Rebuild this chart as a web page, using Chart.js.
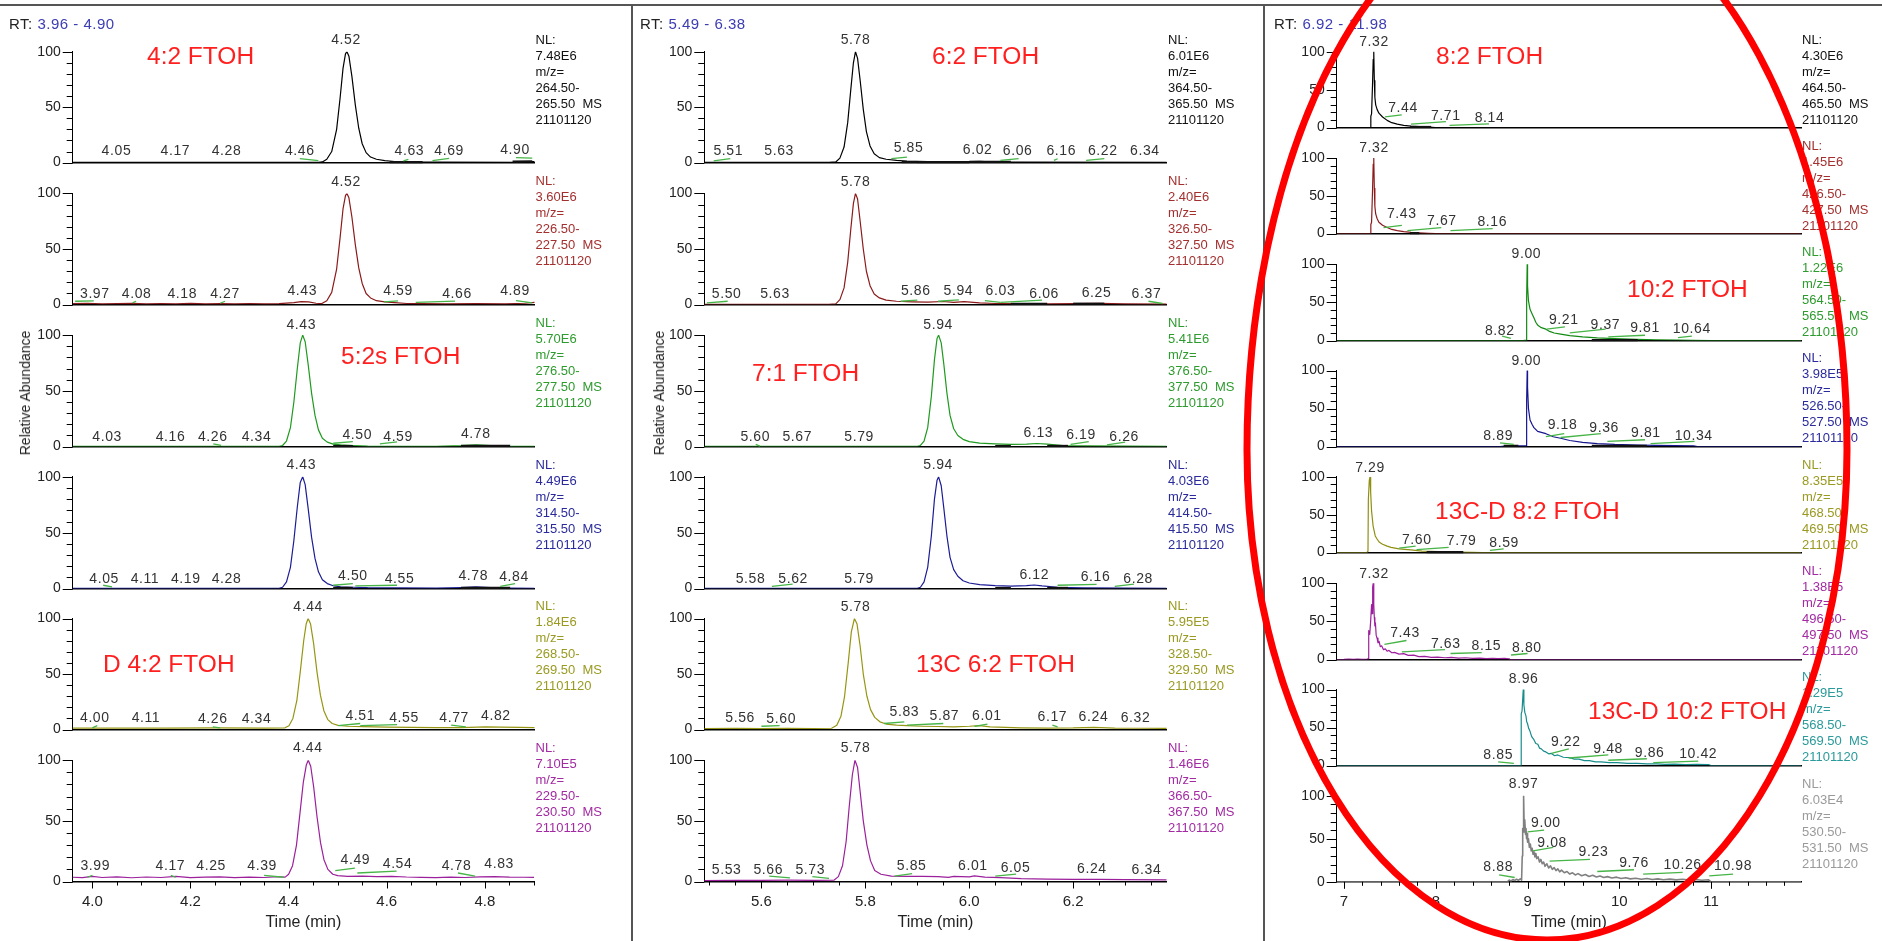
<!DOCTYPE html>
<html>
<head>
<meta charset="utf-8">
<script src="https://cdn.jsdelivr.net/npm/chart.js@4.4.1/dist/chart.umd.min.js"></script>
<style>
  body { margin: 0; background: #fff; width: 1882px; height: 941px; overflow: hidden; position: relative;
         font-family: "Liberation Sans", Arial, sans-serif; }
  canvas { position: absolute; }
  .txt { position: absolute; white-space: pre; }
  .nl { font-size: 13px; line-height: 16px; }
  .cmp { font-size: 24.5px; line-height: 25px; color: #ff1f1f; }
  .rt { font-size: 15px; line-height: 15px; color: #222; letter-spacing: 0.5px; }
  .rt span { color: #3c3cb4; }
  .ylab { font-size: 14px; line-height: 14px; color: #222; transform: translate(-50%, -50%) rotate(-90deg); }
  .bar { position: absolute; background: #555; }
</style>
</head>
<body>
<script>
// retention-time windows of the three panels
const rtRange1 = [3.96, 4.90];
const rtRange2 = [5.49, 6.38];
const rtRange3 = [6.92, 11.98];

// y axis (relative abundance)
const yTicks = [0, 10, 20, 30, 40, 50, 60, 70, 80, 90, 100];
const yTickLabels = ['0', '', '', '', '', '50', '', '', '', '', '100'];

// x axis ticks of each panel
const xTicks1 = [4.00, 4.05, 4.10, 4.15, 4.20, 4.25, 4.30, 4.35, 4.40, 4.45, 4.50, 4.55, 4.60, 4.65, 4.70, 4.75, 4.80, 4.85, 4.90];
const xTickLabels1 = ['4.0', '', '', '', '4.2', '', '', '', '4.4', '', '', '', '4.6', '', '', '', '4.8', '', ''];
const xTicks2 = [5.50, 5.55, 5.60, 5.65, 5.70, 5.75, 5.80, 5.85, 5.90, 5.95, 6.00, 6.05, 6.10, 6.15, 6.20, 6.25, 6.30, 6.35];
const xTickLabels2 = ['', '', '5.6', '', '', '', '5.8', '', '', '', '6.0', '', '', '', '6.2', '', '', ''];
const xTicks3 = [7.0, 7.2, 7.4, 7.6, 7.8, 8.0, 8.2, 8.4, 8.6, 8.8, 9.0, 9.2, 9.4, 9.6, 9.8, 10.0, 10.2, 10.4, 10.6, 10.8, 11.0, 11.2, 11.4, 11.6, 11.8];
const xTickLabels3 = ['7', '', '', '', '', '8', '', '', '', '', '9', '', '', '', '', '10', '', '', '', '', '11', '', '', '', ''];

// ---- panel 1 traces [time, relative abundance] ----
const mz264 = [[3.96,0.3],[4.10,0.3],[4.30,0.3],[4.46,0.3],[4.468,0.6],[4.477,3],[4.487,10],[4.497,30],[4.504,58],[4.51,85],[4.515,98],[4.518,100],[4.522,96],[4.528,78],[4.535,52],[4.542,31],[4.549,17],[4.557,9],[4.566,5],[4.578,3],[4.595,1.8],[4.615,1],[4.64,0.6],[4.70,0.4],[4.86,0.3],[4.88,0.8],[4.90,1]];
const mz226 = [[3.96,0.8],[3.99,1.2],[4.02,0.6],[4.05,0.9],[4.08,1.1],[4.11,0.6],[4.14,1],[4.17,0.7],[4.2,1.1],[4.23,0.6],[4.26,0.9],[4.29,0.6],[4.32,1],[4.35,0.7],[4.38,0.9],[4.41,1.8],[4.425,2.6],[4.44,2.4],[4.455,1.2],[4.467,0.9],[4.477,3.5],[4.487,11],[4.497,32],[4.504,60],[4.51,86],[4.515,98],[4.518,100],[4.522,96],[4.528,79],[4.535,54],[4.542,33],[4.549,19],[4.557,10],[4.566,6],[4.578,3.5],[4.595,2.5],[4.615,1.8],[4.64,1],[4.67,0.8],[4.72,0.7],[4.78,0.8],[4.84,0.7],[4.88,1.2],[4.90,2]];
const mz276 = [[3.96,0.3],[4.2,0.3],[4.38,0.3],[4.387,1],[4.395,5],[4.403,17],[4.41,40],[4.417,70],[4.423,93],[4.428,100],[4.433,94],[4.439,74],[4.446,48],[4.453,28],[4.46,15],[4.468,7.5],[4.478,4],[4.49,2.2],[4.505,1.5],[4.53,1],[4.56,0.5],[4.70,0.3],[4.75,0.8],[4.78,1.5],[4.81,0.9],[4.85,0.4],[4.90,0.3]];
const mz314 = [[3.96,0.2],[4.2,0.2],[4.38,0.3],[4.387,1.2],[4.395,6],[4.403,19],[4.41,43],[4.417,73],[4.423,95],[4.428,100],[4.433,93],[4.439,72],[4.446,46],[4.453,27],[4.46,15],[4.468,8],[4.478,4.5],[4.49,2.6],[4.505,1.6],[4.53,1.2],[4.56,0.8],[4.62,0.6],[4.70,0.4],[4.75,1],[4.78,1.6],[4.81,1],[4.85,0.5],[4.90,0.3]];
const mz268 = [[3.96,1.3],[4.05,1.4],[4.15,1.3],[4.25,1.5],[4.35,1.4],[4.392,1.6],[4.40,3.5],[4.408,10],[4.416,26],[4.423,52],[4.43,80],[4.435,95],[4.439,100],[4.444,95],[4.45,78],[4.457,52],[4.464,31],[4.471,17],[4.479,9],[4.488,5.5],[4.50,3.8],[4.52,3],[4.55,2.6],[4.60,2.2],[4.65,2],[4.70,1.8],[4.75,1.8],[4.80,2.4],[4.83,2.2],[4.87,2],[4.90,1.8]];
const mz229 = [[3.96,3.5],[3.98,3.2],[4.0,4.2],[4.02,3.3],[4.05,3.8],[4.08,3.1],[4.11,3.7],[4.14,3.3],[4.17,4.2],[4.2,3.2],[4.23,3.6],[4.26,3.8],[4.29,3.2],[4.32,3.6],[4.35,3.3],[4.38,3.9],[4.393,3.6],[4.40,6],[4.408,13],[4.416,30],[4.423,56],[4.43,82],[4.436,96],[4.44,100],[4.445,95],[4.451,78],[4.458,53],[4.465,32],[4.472,18],[4.48,10],[4.49,6],[4.50,4.8],[4.52,4.2],[4.55,4.5],[4.58,4],[4.61,4.3],[4.64,3.7],[4.67,3.4],[4.70,3.2],[4.73,3.6],[4.76,3.3],[4.79,3.8],[4.82,4],[4.85,3.6],[4.88,3.5],[4.90,3.4]];

// ---- panel 2 traces ----
const mz364 = [[5.49,0.2],[5.6,0.2],[5.73,0.2],[5.743,0.6],[5.751,4],[5.759,14],[5.766,36],[5.772,66],[5.777,90],[5.781,100],[5.785,94],[5.79,74],[5.796,48],[5.802,28],[5.809,15],[5.817,8],[5.827,4.5],[5.84,3],[5.86,2],[5.88,1.3],[5.92,0.8],[5.97,0.6],[6.0,0.8],[6.02,1.2],[6.04,0.6],[6.10,0.4],[6.38,0.3]];
const mz326 = [[5.49,0.3],[5.6,0.3],[5.73,0.3],[5.743,0.7],[5.751,4.5],[5.759,15],[5.766,38],[5.772,68],[5.777,91],[5.781,100],[5.785,95],[5.79,75],[5.796,50],[5.802,30],[5.809,17],[5.817,9.5],[5.827,6],[5.84,4],[5.86,3],[5.89,2.5],[5.92,2.2],[5.95,2.8],[5.97,2],[5.99,2.6],[6.02,1.6],[6.05,1],[6.1,0.8],[6.15,0.6],[6.2,0.8],[6.25,1.2],[6.3,0.7],[6.38,0.5]];
const mz376 = [[5.49,0.3],[5.7,0.3],[5.90,0.3],[5.906,1],[5.913,5],[5.92,17],[5.927,45],[5.933,78],[5.938,97],[5.941,100],[5.946,93],[5.951,74],[5.957,48],[5.963,28],[5.97,16],[5.978,10],[5.988,6.5],[6.0,4.5],[6.02,3.2],[6.05,2.5],[6.08,2],[6.11,2.2],[6.13,2.8],[6.15,2.2],[6.18,1],[6.22,0.6],[6.3,0.4],[6.38,0.3]];
const mz414 = [[5.49,0.3],[5.7,0.3],[5.90,0.3],[5.906,1.2],[5.913,6],[5.92,19],[5.927,47],[5.933,80],[5.938,97],[5.941,100],[5.946,92],[5.951,72],[5.957,47],[5.963,28],[5.97,17],[5.978,11],[5.988,7],[6.0,5],[6.02,3.5],[6.05,2.6],[6.08,2.2],[6.11,2.6],[6.125,3.2],[6.14,2.4],[6.17,1.2],[6.22,0.7],[6.3,0.4],[6.38,0.3]];
const mz328 = [[5.49,1],[5.55,1.1],[5.6,0.9],[5.65,1.1],[5.7,1],[5.735,1.2],[5.745,4],[5.753,12],[5.76,30],[5.767,60],[5.773,88],[5.779,100],[5.784,95],[5.79,75],[5.796,50],[5.803,30],[5.81,18],[5.818,11],[5.828,7],[5.84,5],[5.86,4],[5.88,3.5],[5.91,3],[5.94,2.8],[5.97,2.5],[6.0,3],[6.02,3.6],[6.04,2.5],[6.07,2],[6.1,1.6],[6.15,1.4],[6.2,1.5],[6.24,2],[6.28,1.4],[6.33,1.2],[6.38,1.1]];
const mz366 = [[5.49,0.8],[5.55,1],[5.6,0.9],[5.65,1.1],[5.7,1],[5.74,1.2],[5.748,4],[5.756,13],[5.763,33],[5.769,62],[5.775,88],[5.78,100],[5.785,94],[5.79,74],[5.796,50],[5.803,30],[5.81,17],[5.818,9],[5.83,6],[5.85,4.5],[5.88,4.3],[5.91,4.2],[5.94,4],[5.96,3.4],[5.97,4.2],[6.0,3.8],[6.01,4.6],[6.03,3.6],[6.06,3.2],[6.1,2.4],[6.15,2],[6.2,1.8],[6.25,1.7],[6.3,1.5],[6.38,1.4]];

// ---- panel 3 traces ----
const mz464 = [[6.92,0],[7.29,0],[7.292,15],[7.30,18],[7.31,55],[7.318,90],[7.324,100],[7.33,62],[7.336,40],[7.345,30],[7.36,24],[7.38,19],[7.42,14],[7.47,9.5],[7.52,6.5],[7.58,4.5],[7.65,3],[7.73,2],[7.82,1.2],[7.92,0.6],[8.0,0],[11.98,0]];
const mz426 = [[6.92,0],[7.29,0],[7.292,12],[7.30,15],[7.31,55],[7.318,92],[7.324,100],[7.33,60],[7.336,36],[7.345,26],[7.36,20],[7.38,15],[7.42,11],[7.47,8],[7.52,5.5],[7.58,4],[7.65,2.5],[7.73,1.5],[7.82,1],[7.92,0.4],[8.0,0],[11.98,0]];
const mz564 = [[6.92,0],[8.95,0],[8.985,0.5],[8.99,55],[8.996,100],[9.0,72],[9.01,52],[9.027,41],[9.05,35],[9.069,30],[9.09,24],[9.112,20],[9.15,17],[9.2,15],[9.24,12],[9.29,10],[9.36,8.5],[9.46,6.5],[9.6,4.8],[9.76,3.5],[9.95,2.5],[10.19,1.6],[10.4,1.1],[10.63,0.8],[10.8,0.3],[11.0,0],[11.98,0]];
const mz526 = [[6.92,0],[8.7,0],[8.75,0.8],[8.85,1],[8.95,1],[8.985,1],[8.99,60],[8.996,100],[9.0,78],[9.01,50],[9.027,35],[9.05,29],[9.069,25],[9.11,20],[9.2,17],[9.28,13],[9.36,11],[9.46,8],[9.6,5.5],[9.76,4],[9.95,2.8],[10.2,2],[10.4,1.5],[10.6,1.2],[10.81,1],[10.85,0],[11.98,0]];
const mz468 = [[6.92,0],[7.25,0],[7.261,2],[7.265,70],[7.275,95],[7.283,100],[7.29,80],[7.3,55],[7.317,35],[7.34,22],[7.36,18],[7.382,14],[7.42,11],[7.47,8.5],[7.512,7],[7.6,5],[7.728,3.5],[7.85,2],[8.032,1.2],[8.2,0.6],[8.4,0.2],[8.5,0],[11.98,0]];
const mz496 = [[6.92,0],[7.0,0.3],[7.05,0.7],[7.1,0.3],[7.15,0.6],[7.2,0.3],[7.25,0.6],[7.262,1],[7.266,30],[7.272,38],[7.28,33],[7.29,50],[7.30,72],[7.306,60],[7.312,95],[7.318,100],[7.324,72],[7.33,55],[7.336,44],[7.342,48],[7.35,32],[7.36,28],[7.37,22],[7.382,24],[7.395,17],[7.41,18],[7.43,13],[7.45,14],[7.469,11],[7.49,12],[7.52,9],[7.55,9.5],[7.6,7.2],[7.65,7.8],[7.7,5.5],[7.76,5.8],[7.815,3.9],[7.88,4.2],[7.95,3],[8.02,3.2],[8.1,2.4],[8.17,2.8],[8.248,2],[8.32,2.4],[8.4,1.6],[8.48,2],[8.55,1.4],[8.62,1.7],[8.68,1.3],[8.75,1.5],[8.8,1],[8.81,0],[11.98,0]];
const mz568 = [[6.92,0],[8.93,0],[8.931,68],[8.94,72],[8.953,100],[8.96,80],[8.97,70],[8.983,65],[8.99,58],[9.0,55],[9.012,49],[9.027,45],[9.045,38],[9.069,34],[9.09,29],[9.112,28],[9.13,23],[9.15,22],[9.175,19],[9.199,18],[9.23,15.5],[9.26,16],[9.295,13],[9.328,14],[9.39,11],[9.459,10.5],[9.51,8.5],[9.56,8.5],[9.62,6.5],[9.675,6.6],[9.74,5],[9.8,5],[9.89,3.8],[9.977,3.9],[10.09,2.8],[10.2,3],[10.3,2.2],[10.41,2.3],[10.5,1.7],[10.6,1.9],[10.72,1.4],[10.84,1.6],[10.97,1.4],[11.0,0],[11.98,0]];
const mz530 = [[6.92,0],[8.78,0],[8.8,2],[8.82,1],[8.84,2.6],[8.86,1.5],[8.88,3],[8.9,1.8],[8.92,3.5],[8.935,2],[8.942,30],[8.947,62],[8.952,58],[8.957,100],[8.962,70],[8.967,58],[8.972,72],[8.978,55],[8.983,62],[8.989,50],[8.995,56],[9.0,46],[9.01,50],[9.02,40],[9.03,44],[9.04,36],[9.05,39],[9.06,32],[9.07,35],[9.08,29],[9.09,33],[9.1,27],[9.115,29],[9.13,23],[9.145,26],[9.16,21],[9.175,23],[9.19,18],[9.21,21],[9.23,16],[9.25,18.5],[9.27,14.5],[9.29,16.5],[9.31,13],[9.33,15],[9.35,11.5],[9.37,13.5],[9.4,10.5],[9.43,12],[9.46,9],[9.49,10.5],[9.52,8],[9.55,9.5],[9.59,7],[9.63,8.5],[9.67,6.2],[9.71,7.6],[9.75,5.6],[9.79,6.8],[9.83,5],[9.87,6],[9.92,4.4],[9.97,5.4],[10.02,3.8],[10.07,4.8],[10.12,3.4],[10.18,4.2],[10.24,3],[10.3,3.8],[10.36,2.6],[10.42,3.4],[10.48,2.4],[10.55,3.1],[10.62,2.2],[10.69,2.9],[10.76,2],[10.83,2.7],[10.9,1.8],[10.97,2.4],[11.0,0],[11.98,0]];

// peak labels: [text, time where drawn, abundance level]
const pk264 = [['4.52',4.516,110],['4.05',4.049,10],['4.17',4.169,10],['4.28',4.273,10],['4.46',4.422,10],['4.63',4.645,10],['4.69',4.726,10],['4.90',4.86,11]];
const pk226 = [['4.52',4.516,110],['3.97',4.005,9.6],['4.08',4.09,9.6],['4.18',4.183,9.6],['4.27',4.27,9.6],['4.43',4.427,11.8],['4.59',4.622,11.8],['4.66',4.742,9.6],['4.89',4.86,11.8]];
const pk276 = [['4.43',4.425,109],['4.03',4.03,8.8],['4.16',4.159,8.8],['4.26',4.245,8.8],['4.34',4.334,8.8],['4.50',4.539,10],['4.59',4.622,8.8],['4.78',4.78,11]];
const pk314 = [['4.43',4.425,110],['4.05',4.024,8.7],['4.11',4.107,8.7],['4.19',4.19,8.7],['4.28',4.273,8.7],['4.50',4.53,11],['4.55',4.625,8.7],['4.78',4.775,11],['4.84',4.858,10]];
const pk268 = [['4.44',4.439,110],['4.00',4.005,10.4],['4.11',4.109,10.4],['4.26',4.245,9],['4.34',4.334,9],['4.51',4.545,12.4],['4.55',4.634,10.4],['4.77',4.736,10.4],['4.82',4.821,12.4]];
const pk229 = [['4.44',4.439,110],['3.99',4.006,13],['4.17',4.159,13],['4.25',4.242,13],['4.39',4.346,13],['4.49',4.536,17.4],['4.54',4.622,14.3],['4.78',4.742,13],['4.83',4.829,14.3]];
const pk364 = [['5.78',5.781,110],['5.51',5.536,10],['5.63',5.634,10],['5.85',5.883,13.4],['6.02',6.016,11.5],['6.06',6.093,10],['6.16',6.177,10],['6.22',6.257,10],['6.34',6.338,10]];
const pk326 = [['5.78',5.781,110],['5.50',5.533,9.6],['5.63',5.626,9.6],['5.86',5.897,11.8],['5.94',5.979,11.8],['6.03',6.06,11.8],['6.06',6.144,9.6],['6.25',6.245,10.4],['6.37',6.341,9.6]];
const pk376 = [['5.94',5.94,109],['5.60',5.588,8.8],['5.67',5.669,8.8],['5.79',5.788,8.8],['6.13',6.133,12],['6.19',6.215,10],['6.26',6.298,8.8]];
const pk414 = [['5.94',5.94,110],['5.58',5.579,8.7],['5.62',5.661,8.7],['5.79',5.788,8.7],['6.12',6.125,12.2],['6.16',6.243,10],['6.28',6.325,8.7]];
const pk328 = [['5.78',5.781,110],['5.56',5.559,10.4],['5.60',5.638,9],['5.83',5.875,15.4],['5.87',5.952,12.4],['6.01',6.034,12.4],['6.17',6.16,11],['6.24',6.239,11],['6.32',6.32,10.4]];
const pk366 = [['5.78',5.781,110],['5.53',5.533,9],['5.66',5.613,9],['5.73',5.694,9],['5.85',5.889,12.3],['6.01',6.007,12.3],['6.05',6.089,11],['6.24',6.236,10.2],['6.34',6.341,9]];
const pk464 = [['7.32',7.326,113],['7.44',7.642,25],['7.71',8.109,15.5],['8.14',8.585,12.8]];
const pk426 = [['7.32',7.326,113],['7.43',7.629,26],['7.67',8.066,16.6],['8.16',8.615,14.6]];
const pk564 = [['9.00',8.987,113],['8.82',8.697,13],['9.21',9.394,27.4],['9.37',9.848,20],['9.81',10.28,16.3],['10.64',10.79,14.4]];
const pk526 = [['9.00',8.987,113],['8.89',8.68,14.4],['9.18',9.381,28],['9.36',9.835,24],['9.81',10.29,17.5],['10.34',10.81,14.4]];
const pk468 = [['7.29',7.283,112],['7.60',7.793,17],['7.79',8.282,15.5],['8.59',8.745,12.4]];
const pk496 = [['7.32',7.326,112],['7.43',7.664,35],['7.63',8.109,20],['8.15',8.551,17.4],['8.80',8.992,15.5]];
const pk568 = [['8.96',8.957,114],['8.85',8.68,13.6],['9.22',9.416,30.7],['9.48',9.878,22],['9.86',10.33,16.3],['10.42',10.86,15]];
const pk530 = [['8.97',8.957,113.6],['8.88',8.68,17.4],['9.00',9.2,68],['9.08',9.268,45.3],['9.23',9.718,35],['9.76',10.16,21.4],['10.26',10.69,19.4],['10.98',11.24,18.2]];

// integration baselines (green) per trace: [t1, y1, t2, y2]
const green1 = [
  [[4.422,3.5,4.46,1.8],[4.633,1.5,4.643,3],[4.692,1.8,4.726,3.8],[4.862,4.4,4.895,4]],
  [[3.965,3,4.003,3.3],[4.082,1.5,4.089,3],[4.26,1.2,4.27,3],[4.593,2.5,4.622,3.3],[4.658,2,4.738,3.2],[4.862,3.5,4.895,1.5]],
  [[4.246,2.5,4.262,1],[4.49,3,4.53,4.5],[4.585,2.5,4.62,4.3]],
  [[4.022,3,4.04,1.5],[4.49,3,4.53,4.5],[4.535,2.5,4.62,3],[4.83,2,4.86,4.5]],
  [[4.0,1.5,4.01,3.5],[4.245,2.5,4.26,1.5],[4.50,3.5,4.545,5.5],[4.545,3.5,4.62,4.5],[4.73,4,4.76,2.5]],
  [[3.99,3.5,4.0,5],[4.16,5,4.17,3.5],[4.35,5,4.39,3.5],[4.495,9,4.535,11],[4.54,7,4.62,8.5],[4.745,7,4.78,4.5]]
];
const green2 = [
  [[5.508,1.5,5.54,3.5],[5.85,3.5,5.88,5],[6.06,2,6.095,3.5],[6.163,2,6.17,3.5],[6.225,2,6.26,3.5]],
  [[5.495,1.5,5.535,3],[5.868,3,5.9,4],[5.94,3,5.98,4.3],[6.03,3.5,6.06,2],[6.06,2,6.14,4],[6.345,3,6.372,1]],
  [[5.589,2,5.597,0.5],[6.195,2,6.23,4.5],[6.265,1.5,6.3,4]],
  [[5.62,2,5.66,4],[6.17,3,6.245,3.8],[6.28,2,6.317,4]],
  [[5.6,3,5.635,3.5],[5.836,5.5,5.875,7],[5.88,4,5.95,5.5],[6.01,3,6.035,5],[6.16,4,6.17,2.5]],
  [[5.615,4.5,5.655,3],[5.698,4,5.73,2.5],[5.856,4.5,5.89,6.5],[6.05,4.5,6.09,6]]
];
const green3 = [
  [[7.447,14,7.629,16.7],[7.73,4.5,8.11,8],[8.15,3,8.58,5]],
  [[7.43,8,7.63,11],[7.69,4,8.06,8],[8.16,4,8.62,6.5]],
  [[8.723,6,8.818,3],[9.208,15,9.407,18],[9.46,10,9.85,15],[9.88,5,10.28,7],[10.64,4,10.79,6]],
  [[8.70,5,8.85,3],[9.2,13,9.4,17],[9.36,12,9.8,17],[9.87,7,10.28,9],[10.34,4,10.82,7]],
  [[7.6,6,7.78,8.5],[7.79,4,8.14,7],[8.59,3,8.74,5]],
  [[7.44,20,7.68,25],[7.63,10,8.1,13],[8.16,8,8.5,9],[8.82,6,9.0,8]],
  [[8.68,5,8.85,3],[9.26,16,9.45,22],[9.45,10,9.88,14],[9.88,7,10.3,9],[10.37,4,10.86,6]],
  [[8.69,8,8.86,5],[9.0,58,9.18,60],[9.06,36,9.28,40],[9.24,24,9.68,26],[9.76,12,10.16,14],[10.26,9,10.69,11],[10.98,7,11.24,9]]
];
// baseline segments drawn in black: [t1, y1, t2, y2]
const black1 = [
  [[4.605,0.5,4.672,0.5],[4.855,0.8,4.895,1.2]], [], [[4.49,0.5,4.53,0.5],[4.75,0.6,4.85,0.6]],
  [[4.49,0.6,4.53,0.6],[4.75,0.6,4.85,0.6]], [], []
];
const black2 = [
  [[5.87,0.5,5.9,0.5],[5.9,0.4,6.0,0.4],[6.0,0.6,6.08,0.6]], [[6.08,0.6,6.15,0.6],[6.2,0.8,6.26,0.8]],
  [[6.05,0.5,6.08,0.5],[6.15,0.6,6.19,0.6]], [[6.05,0.5,6.08,0.5],[6.15,0.6,6.19,0.6]], [], []
];
const black3 = [
  [[7.72,0.8,7.95,0.8]], [[7.72,0.6,7.82,0.6]], [[9.7,0.5,10.2,0.5]], [[8.74,1,8.9,1],[9.7,1,10.3,1]], [[7.9,0.5,8.3,0.5]], [], [], []
];

// normalisation levels and mass ranges
const nl1 = ['7.48E6', '3.60E6', '5.70E6', '4.49E6', '1.84E6', '7.10E5'];
const mzLo1 = ['264.50', '226.50', '276.50', '314.50', '268.50', '229.50'];
const mzHi1 = ['265.50', '227.50', '277.50', '315.50', '269.50', '230.50'];
const nl2 = ['6.01E6', '2.40E6', '5.41E6', '4.03E6', '5.95E5', '1.46E6'];
const mzLo2 = ['364.50', '326.50', '376.50', '414.50', '328.50', '366.50'];
const mzHi2 = ['365.50', '327.50', '377.50', '415.50', '329.50', '367.50'];
const nl3 = ['4.30E6', '1.45E6', '1.22E6', '3.98E5', '8.35E5', '1.38E5', '1.29E5', '6.03E4'];
const mzLo3 = ['464.50', '426.50', '564.50', '526.50', '468.50', '496.50', '568.50', '530.50'];
const mzHi3 = ['465.50', '427.50', '565.50', '527.50', '469.50', '497.50', '569.50', '531.50'];
const runId = '21101120';

const compounds1 = ['4:2 FTOH', '5:2s FTOH', 'D 4:2 FTOH'];
const compounds2 = ['6:2 FTOH', '7:1 FTOH', '13C 6:2 FTOH'];
const compounds3 = ['8:2 FTOH', '10:2 FTOH', '13C-D 8:2 FTOH', '13C-D 10:2 FTOH'];

// ---- layout and styles ----
const colors6 = ['#000000', '#8b1a1a', '#1f9a1f', '#1c1c96', '#969614', '#9c1f9c'];
const colors8 = ['#000000', '#8b1a1a', '#138a13', '#15158f', '#8f8f14', '#9c1f9c', '#188c8c', '#808080'];
const textColors = ['#111111', '#a3302f', '#2e9b2e', '#2a2a9c', '#9a9a22', '#a22aa2', '#2a9a9a', '#9a9a9a'];

const panels = [
  { range: rtRange1, xTicks: xTicks1, xLabels: xTickLabels1, cLeft: 0, plotL: 72.7, plotR: 534.7, cRight: 545,
    top0: 51.7, step: 141.7, h: 121.3, colors: colors6,
    traces: [mz264, mz226, mz276, mz314, mz268, mz229],
    peaks: [pk264, pk226, pk276, pk314, pk268, pk229], green: green1, black: black1,
    nl: nl1, lo: mzLo1, hi: mzHi1, nlLeft: 535.5,
    rtText: ['RT: ', '3.96 - 4.90'], rtLeft: 9,
    cmp: compounds1, cmpPos: [[147, 55], [341, 355], [103, 663]], yTitleX: 25 },
  { range: rtRange2, xTicks: xTicks2, xLabels: xTickLabels2, cLeft: 636, plotL: 704.3, plotR: 1166.7, cRight: 1177,
    top0: 51.7, step: 141.7, h: 121.3, colors: colors6,
    traces: [mz364, mz326, mz376, mz414, mz328, mz366],
    peaks: [pk364, pk326, pk376, pk414, pk328, pk366], green: green2, black: black2,
    nl: nl2, lo: mzLo2, hi: mzHi2, nlLeft: 1168,
    rtText: ['RT: ', '5.49 - 6.38'], rtLeft: 640,
    cmp: compounds2, cmpPos: [[932, 55], [752, 372], [916, 663]], yTitleX: 659 },
  { range: rtRange3, xTicks: xTicks3, xLabels: xTickLabels3, cLeft: 1267, plotL: 1336.7, plotR: 1801, cRight: 1811,
    top0: 51.7, step: 106.3, h: 86, colors: colors8,
    traces: [mz464, mz426, mz564, mz526, mz468, mz496, mz568, mz530],
    peaks: [pk464, pk426, pk564, pk526, pk468, pk496, pk568, pk530], green: green3, black: black3,
    nl: nl3, lo: mzLo3, hi: mzHi3, nlLeft: 1802,
    rtText: ['RT: ', '6.92 - 11.98'], rtLeft: 1274,
    cmp: compounds3, cmpPos: [[1436, 55], [1627, 288], [1435, 510], [1588, 710]], yTitleX: null }
];

Chart.defaults.font.family = '"Liberation Sans", Arial, sans-serif';
Chart.defaults.color = '#333';

// tick marks (major / minor), integration baselines and peak labels
const chromPlugin = {
  id: 'chrom',
  afterDatasetsDraw(chart, args, opts) {
    const ctx = chart.ctx;
    const xs = chart.scales.x;
    const ys = chart.scales.y;
    ctx.save();
    ctx.strokeStyle = '#000';
    ctx.lineWidth = 1;
    ys.ticks.forEach(t => {
      const py = Math.round(ys.getPixelForValue(t.value)) + 0.5;
      const len = t.label ? 10 : 6;
      ctx.beginPath();
      ctx.moveTo(xs.left - len, py);
      ctx.lineTo(xs.left, py);
      ctx.stroke();
    });
    if (opts.bottom) {
      xs.ticks.forEach(t => {
        const px = Math.round(xs.getPixelForValue(t.value)) + 0.5;
        const len = t.label ? 7 : 4;
        ctx.beginPath();
        ctx.moveTo(px, ys.bottom);
        ctx.lineTo(px, ys.bottom + len);
        ctx.stroke();
      });
    }
    const seg = (s) => {
      ctx.beginPath();
      ctx.moveTo(xs.getPixelForValue(s[0]), ys.getPixelForValue(s[1]));
      ctx.lineTo(xs.getPixelForValue(s[2]), ys.getPixelForValue(s[3]));
      ctx.stroke();
    };
    ctx.strokeStyle = '#111';
    ctx.lineWidth = 2.2;
    opts.black.forEach(seg);
    ctx.strokeStyle = '#46b446';
    ctx.lineWidth = 1.3;
    opts.green.forEach(seg);

    ctx.font = '14px "Liberation Sans", Arial, sans-serif';
    ctx.letterSpacing = '0.6px';
    ctx.fillStyle = '#333';
    ctx.textAlign = 'center';
    ctx.textBaseline = 'middle';
    opts.peaks.forEach(p => {
      ctx.fillText(p[0], xs.getPixelForValue(p[1]), ys.getPixelForValue(p[2]));
    });
    ctx.restore();
  }
};

function addText(cls, left, top, html, color) {
  const d = document.createElement('div');
  d.className = 'txt ' + cls;
  d.style.left = left + 'px';
  d.style.top = top + 'px';
  if (color) d.style.color = color;
  d.innerHTML = html;
  document.body.appendChild(d);
  return d;
}

panels.forEach(pn => {
  pn.traces.forEach((tr, i) => {
    const last = i === pn.traces.length - 1;
    const top = pn.top0 + i * pn.step;
    const bot = top + pn.h;
    const cTop = Math.floor(top - 30);
    const cBot = last ? 941 : Math.ceil(bot + 10);
    const cv = document.createElement('canvas');
    cv.width = pn.cRight - pn.cLeft;
    cv.height = cBot - cTop;
    cv.style.left = pn.cLeft + 'px';
    cv.style.top = cTop + 'px';
    document.body.appendChild(cv);

    new Chart(cv, {
      type: 'line',
      data: {
        datasets: [{
          data: tr.map(p => ({ x: p[0], y: p[1] })),
          borderColor: pn.colors[i],
          borderWidth: pn.colors[i] === '#808080' ? 1.6 : 1.2,
          borderJoinStyle: 'round',
          pointRadius: 0,
          tension: 0,
          fill: false
        }]
      },
      options: {
        responsive: false,
        animation: false,
        devicePixelRatio: 1,
        layout: { padding: { top: top - cTop, bottom: last ? 0 : cBot - bot, left: 0, right: pn.cRight - pn.plotR } },
        plugins: {
          legend: { display: false },
          tooltip: { enabled: false },
          chrom: { peaks: pn.peaks[i], green: pn.green[i], black: pn.black[i], bottom: last }
        },
        scales: {
          x: {
            type: 'linear',
            min: pn.range[0],
            max: pn.range[1],
            afterBuildTicks: s => { s.ticks = pn.xTicks.map(v => ({ value: v })); },
            afterFit: s => { s.height = last ? 941 - bot : 0; },
            grid: { display: false, drawTicks: false },
            border: { display: true, color: '#000', width: 1.5 },
            ticks: {
              display: last,
              autoSkip: false,
              maxRotation: 0,
              padding: 11,
              color: '#222',
              font: { size: 15 },
              callback: (v, idx) => pn.xLabels[idx]
            },
            title: { display: last, text: 'Time (min)', color: '#222', font: { size: 16 }, padding: { top: 0, bottom: 9 } }
          },
          y: {
            min: 0,
            max: 100,
            afterBuildTicks: s => { s.ticks = yTicks.map(v => ({ value: v })); },
            afterFit: s => { s.width = pn.plotL - pn.cLeft; },
            grid: { display: false, drawTicks: false },
            border: { display: true, color: '#000', width: 1 },
            ticks: {
              autoSkip: false,
              padding: 12,
              color: '#222',
              font: { size: 14 },
              callback: (v, idx) => yTickLabels[idx]
            }
          }
        }
      },
      plugins: [chromPlugin]
    });

    // NL / m/z block right of each trace
    addText('nl', pn.nlLeft, top - 20.2,
      'NL:\n' + pn.nl[i] + '\nm/z=\n' + pn.lo[i] + '-\n' + pn.hi[i] + '  MS\n' + runId,
      textColors[i]);
  });

  addText('rt', pn.rtLeft, 16, pn.rtText[0] + '<span>' + pn.rtText[1] + '</span>');
  pn.cmp.forEach((c, k) => addText('cmp', pn.cmpPos[k][0], pn.cmpPos[k][1] - 12.2, c));
  if (pn.yTitleX !== null) {
    addText('ylab', pn.yTitleX, 393, 'Relative Abundance');
  }
});

// frame lines between panels
[[0, 4, 1882, 2], [631, 4, 2, 937], [1263, 4, 2, 937]].forEach(b => {
  const d = document.createElement('div');
  d.className = 'bar';
  d.style.left = b[0] + 'px';
  d.style.top = b[1] + 'px';
  d.style.width = b[2] + 'px';
  d.style.height = b[3] + 'px';
  document.body.appendChild(d);
});

// red hand-drawn loop around the third panel (wider top half, shorter bottom half)
const svgNS = 'http://www.w3.org/2000/svg';
const svg = document.createElementNS(svgNS, 'svg');
svg.setAttribute('width', '1882');
svg.setAttribute('height', '941');
svg.style.position = 'absolute';
svg.style.left = '0';
svg.style.top = '0';
const loop = document.createElementNS(svgNS, 'path');
loop.setAttribute('d', 'M 1247 450 A 300 558 0 0 1 1847 450 A 300 490 0 0 1 1247 450 Z');
loop.setAttribute('fill', 'none');
loop.setAttribute('stroke', '#ff0000');
loop.setAttribute('stroke-width', '7');
svg.appendChild(loop);
document.body.appendChild(svg);
</script>
</body>
</html>
